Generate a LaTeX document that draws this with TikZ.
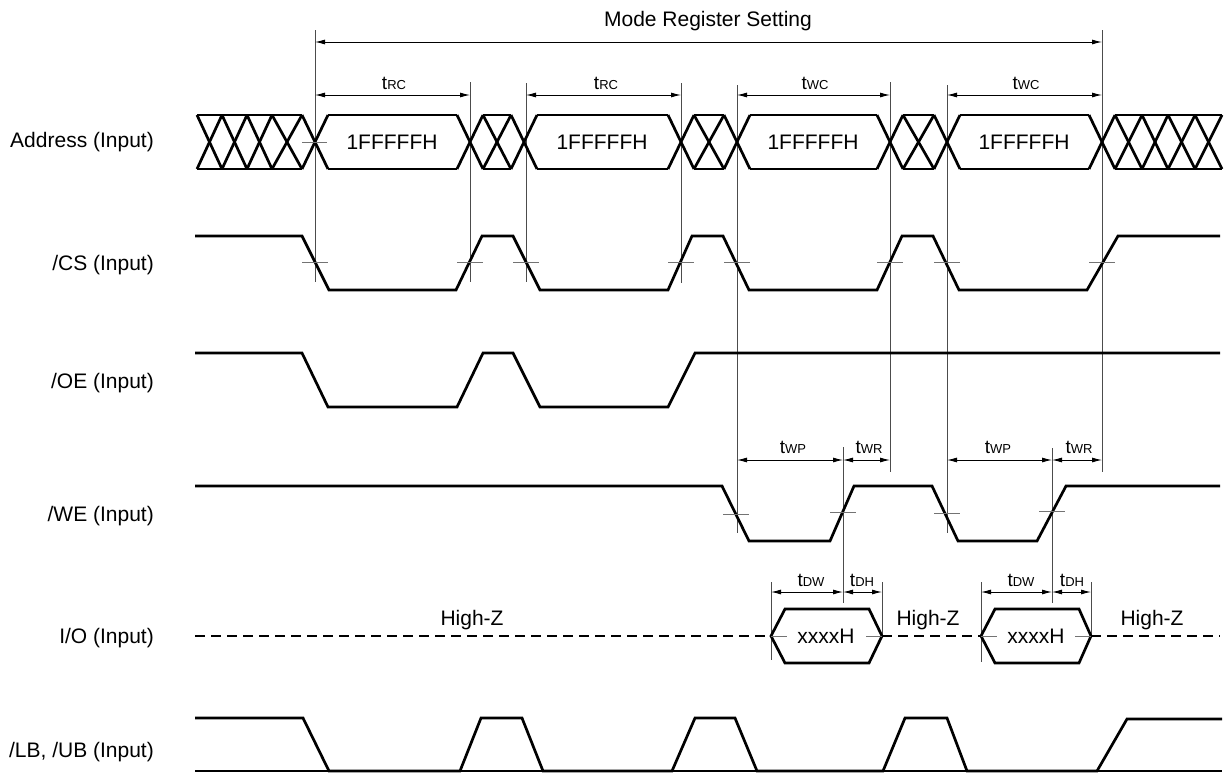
\documentclass[tikz,border=0pt]{standalone}
\usepackage{fontspec}
\setmainfont{Liberation Sans}
\usetikzlibrary{arrows.meta}
\newcommand{\tsub}[1]{t{\fontsize{13}{13}\selectfont #1}}
\begin{document}
\begin{tikzpicture}[x=1pt,y=-1pt,
  sig/.style={line width=2.7pt,black},
  iodash/.style={line width=2.6pt,black,dash pattern=on 10pt off 6pt},
  refl/.style={line width=0.9pt,black!70},
  tickl/.style={line width=1pt,black!55},
  dim/.style={line width=0.9pt,black,{Latex[length=10pt,width=5pt]}-{Latex[length=10pt,width=5pt]}},
  lbl/.style={font=\fontsize{21}{21}\selectfont,inner sep=0pt},
  tlbl/.style={font=\fontsize{19}{19}\selectfont,inner sep=0pt,anchor=base}]
\useasboundingbox (0,0) rectangle (1226,774);

% ---------- signal names ----------
\node[lbl,anchor=base east] (lA)  at (154,147.5) {Address (Input)};
\node[lbl,anchor=base east] (lCS) at (154,270.5) {/CS (Input)};
\node[lbl,anchor=base east] (lOE) at (154,388) {/OE (Input)};
\node[lbl,anchor=base east] (lWE) at (154,521) {/WE (Input)};
\node[lbl,anchor=base east] (lIO) at (154,643.5) {I/O (Input)};
\node[lbl,anchor=base east] (lLB) at (154,757) {/LB, /UB (Input)};

% ---------- reference lines ----------
\draw[refl] (315,30)--(315,282);
\draw[refl] (470,82)--(470,282);
\draw[refl] (526,83)--(526,282);
\draw[refl] (681,83)--(681,283);
\draw[refl] (737,85)--(737,533);
\draw[refl] (890,82)--(890,472);
\draw[refl] (947,85)--(947,533);
\draw[refl] (1102,30)--(1102,472);
\draw[refl] (843,447)--(843,603);
\draw[refl] (1052,448)--(1052,603);
\draw[refl] (771,582)--(771,660);
\draw[refl] (882,582)--(882,637);
\draw[refl] (981,582)--(981,662);
\draw[refl] (1091,582)--(1091,637);

% ---------- dimension arrows ----------
\draw[dim] (315,42)--(1102,42);
\node[lbl,anchor=base] (mrs) at (708,26) {Mode Register Setting};
\draw[dim] (315,95)--(470,95);
\draw[dim] (526,95)--(681,95);
\draw[dim] (737,95)--(890,95);
\draw[dim] (947,95)--(1102,95);
\node[tlbl] (trc1) at (394,89) {\tsub{RC}};
\node[tlbl] (trc2) at (606,89) {\tsub{RC}};
\node[tlbl] (twc1) at (815,89) {\tsub{WC}};
\node[tlbl] (twc2) at (1026,89) {\tsub{WC}};
\draw[dim] (737,460)--(843,460);
\draw[dim] (843,460)--(890,460);
\draw[dim] (947,460)--(1052,460);
\draw[dim] (1052,460)--(1102,460);
\node[tlbl] (twp1) at (793,453) {\tsub{WP}};
\node[tlbl] (twr1) at (869,453) {\tsub{WR}};
\node[tlbl] (twp2) at (998,453) {\tsub{WP}};
\node[tlbl] (twr2) at (1079,453) {\tsub{WR}};
\draw[dim] (771,592)--(843,592);
\draw[dim] (843,592)--(882,592);
\draw[dim] (981,592)--(1052,592);
\draw[dim] (1052,592)--(1091,592);
\node[tlbl] (tdw1) at (811,586) {\tsub{DW}};
\node[tlbl] (tdh1) at (862,586) {\tsub{DH}};
\node[tlbl] (tdw2) at (1021,586) {\tsub{DW}};
\node[tlbl] (tdh2) at (1072,586) {\tsub{DH}};

% ---------- Address ----------
\foreach \a/\b in {197/302,328/457,483/511,537/668,694/724,750/877,903/934,960/1089,1115/1222}{
  \draw[sig] (\a,115)--(\b,115);
  \draw[sig] (\a,169)--(\b,169);
}
\foreach \c in {315,470,524,681,737,890,947,1102}{
  \draw[sig] (\c-13,115)--(\c+13,169);
  \draw[sig] (\c-13,169)--(\c+13,115);
}
\foreach \a/\b in {197/222,222/247,247/272,272/302,483/511,694/724,903/934,1115/1142,1142/1168,1168/1195,1195/1222}{
  \draw[sig] (\a,115)--(\b,169);
  \draw[sig] (\a,169)--(\b,115);
}
\draw[tickl] (302,142)--(327,142);
\node[lbl] (ad1) at (392,142) {1FFFFFH};
\node[lbl] (ad2) at (602,142) {1FFFFFH};
\node[lbl] (ad3) at (813,142) {1FFFFFH};
\node[lbl] (ad4) at (1024,142) {1FFFFFH};

% ---------- /CS ----------
\draw[sig] (195,236)--(302,236)--(329,290)--(456,290)--(482,236)--(513,236)--(540,290)--(668,290)--(692,236)--(723,236)--(749,290)--(877,290)--(902,236)--(933,236)--(959,290)--(1087,290)--(1118,236)--(1220,236);
\foreach \c in {315,470,526,681,737,890,947,1102}{
  \draw[tickl] (\c-13,262)--(\c+13,262);
}

% ---------- /OE ----------
\draw[sig] (195,353)--(302,353)--(328,407)--(457,407)--(483,353)--(513,353)--(540,407)--(668,407)--(695,353)--(1220,353);

% ---------- /WE ----------
\draw[sig] (195,486)--(722,486)--(749,541)--(830,541)--(854,486)--(932,486)--(958,541)--(1037,541)--(1066,486)--(1220,486);
\foreach \c/\y in {736/514,843/512,947/513,1052/511}{
  \draw[tickl] (\c-13,\y)--(\c+13,\y);
}

% ---------- I/O ----------
\draw[iodash] (195,636)--(771,636);
\draw[iodash] (882,636)--(981,636);
\draw[iodash] (1091,636)--(1220,636);
\draw[sig] (771,636)--(785,609)--(869,609)--(882,636)--(869,663)--(785,663)--cycle;
\draw[sig] (981,636)--(995,609)--(1079,609)--(1091,636)--(1079,663)--(995,663)--cycle;
\draw[tickl] (771,636)--(787,636);
\draw[tickl] (866,636)--(882,636);
\draw[tickl] (981,636)--(997,636);
\draw[tickl] (1075,636)--(1091,636);
\node[lbl] (io1) at (826,636) {xxxxH};
\node[lbl] (io2) at (1036,636) {xxxxH};
\node[lbl,anchor=base] (hz1) at (472,625) {High-Z};
\node[lbl,anchor=base] (hz2) at (928,625) {High-Z};
\node[lbl,anchor=base] (hz3) at (1152,625) {High-Z};

% ---------- /LB, /UB ----------
\draw[sig] (195,718)--(303,718)--(329,771)--(460,771)--(481,718)--(522,718)--(543,771)--(672,771)--(695,718)--(735,718)--(757,771)--(883,771)--(905,718)--(947,718)--(967,771)--(1097,771)--(1127,719)--(1222,719);
\draw[sig] (195,771)--(1222,771);
\end{tikzpicture}
\end{document}
